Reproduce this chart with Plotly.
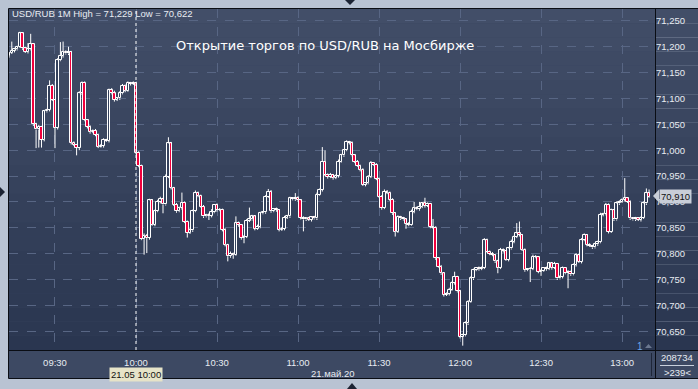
import plotly.graph_objects as go
import pandas as pd

# ---------------- data (prices in units of 0.001 RUB) ----------------
start_time = "2020-05-21 09:13"
first_open = 71182
closes = [
    71188, 71192, 71195, 71200, 71226, 71197, 71190, 71195, 71205, 71050,
    71040, 71045, 71020, 71075, 71078, 71125, 71097, 71043, 71174, 71182,
    71190, 71187, 71190, 71014, 71010, 71005, 71110, 71130, 71058, 71045,
    71035, 71038, 71030, 71007, 71008, 71020, 71018, 71116, 71110, 71097,
    71100, 71110, 71125, 71115, 71130, 71128, 71130, 70995, 70970, 70828,
    70835, 70830, 70903, 70856, 70882, 70900, 70905, 70895, 70949, 71013,
    70927, 70894, 70882, 70888, 70898, 70862, 70840, 70845, 70882, 70917,
    70912, 70891, 70872, 70875, 70873, 70880, 70894, 70884, 70885, 70846,
    70817, 70795, 70800, 70798, 70859, 70855, 70830, 70832, 70864, 70866,
    70872, 70848, 70852, 70878, 70880, 70910, 70920, 70882, 70886, 70884,
    70846, 70848, 70869, 70872, 70907, 70905, 70908, 70903, 70869, 70866,
    70868, 70865, 70870, 70868, 70914, 70923, 70978, 70952, 70948, 70952,
    70946, 70950, 70978, 70990, 71000, 71016, 71014, 70990, 70978, 70970,
    70962, 70933, 70936, 70949, 70975, 70972, 70945, 70910, 70888, 70920,
    70918, 70904, 70878, 70842, 70871, 70868, 70866, 70858, 70856, 70881,
    70888, 70886, 70890, 70897, 70892, 70896, 70852, 70850, 70791, 70775,
    70762, 70720, 70722, 70730, 70743, 70755, 70727, 70639, 70642, 70665,
    70707, 70752, 70768, 70772, 70770, 70773, 70826, 70804, 70800, 70797,
    70785, 70772, 70807, 70805, 70788, 70810, 70823, 70832, 70839, 70836,
    70807, 70768, 70770, 70771, 70794, 70793, 70765, 70767, 70772, 70770,
    70781, 70772, 70780, 70752, 70755, 70772, 70762, 70765, 70760, 70778,
    70797, 70784, 70826, 70836, 70817, 70815, 70812, 70818, 70822, 70875,
    70876, 70894, 70842, 70884, 70866, 70897, 70900, 70904, 70907, 70900,
    70868, 70866, 70868, 70865, 70869, 70897, 70917, 70910,
]
wick_up = [
    2, 18, 3, 2, 3, 2, 3, 12, 20, 2,
    3, 4, 2, 3, 2, 10, 3, 2, 4, 27,
    20, 3, 10, 2, 3, 2, 4, 3, 3, 2,
    3, 2, 3, 2, 4, 3, 2, 3, 4, 5,
    3, 4, 3, 2, 3, 2, 3, 2, 3, 2,
    4, 3, 3, 2, 3, 4, 5, 3, 4, 12,
    3, 2, 4, 3, 20, 3, 2, 4, 3, 5,
    3, 2, 3, 2, 3, 6, 2, 3, 3, 2,
    3, 2, 4, 2, 13, 3, 2, 4, 3, 23,
    3, 2, 4, 3, 2, 3, 5, 3, 2, 3,
    2, 3, 4, 3, 3, 2, 9, 3, 2, 3,
    2, 3, 2, 3, 4, 3, 28, 22, 3, 4,
    2, 3, 4, 3, 2, 3, 2, 3, 2, 3,
    2, 3, 2, 3, 4, 2, 3, 2, 3, 4,
    3, 2, 3, 2, 3, 2, 3, 2, 3, 4,
    12, 3, 10, 3, 11, 3, 2, 15, 3, 2,
    3, 2, 3, 4, 3, 10, 2, 3, 3, 4,
    3, 4, 3, 2, 3, 2, 4, 3, 2, 3,
    2, 3, 4, 3, 2, 3, 4, 3, 20, 23,
    2, 3, 2, 3, 4, 3, 2, 3, 2, 3,
    3, 2, 4, 2, 3, 3, 2, 3, 2, 3,
    4, 3, 4, 3, 2, 3, 2, 3, 3, 4,
    3, 4, 3, 3, 2, 4, 3, 3, 39, 2,
    3, 2, 3, 2, 3, 4, 9, 7,
]
wick_dn = [
    3, 2, 3, 2, 2, 3, 2, 3, 2, 3,
    36, 35, 15, 3, 2, 3, 2, 39, 3, 2,
    3, 2, 3, 3, 2, 15, 5, 3, 2, 3,
    3, 2, 3, 3, 2, 3, 2, 3, 2, 3,
    2, 3, 2, 3, 2, 3, 2, 3, 3, 2,
    30, 29, 3, 2, 3, 2, 3, 17, 2, 3,
    3, 2, 3, 2, 3, 3, 9, 2, 3, 2,
    3, 2, 3, 2, 8, 3, 2, 3, 2, 3,
    3, 10, 3, 8, 2, 3, 3, 10, 2, 3,
    2, 3, 2, 3, 2, 3, 2, 3, 2, 3,
    3, 2, 3, 2, 3, 2, 3, 2, 3, 23,
    3, 2, 3, 2, 3, 2, 3, 2, 3, 2,
    3, 2, 3, 2, 3, 2, 3, 2, 3, 2,
    3, 2, 3, 2, 3, 2, 3, 2, 3, 2,
    3, 2, 3, 9, 2, 3, 2, 10, 3, 2,
    3, 2, 3, 2, 3, 2, 3, 2, 3, 2,
    3, 3, 2, 3, 2, 3, 2, 3, 17, 2,
    3, 2, 3, 2, 3, 2, 3, 2, 3, 2,
    3, 10, 2, 3, 2, 3, 2, 3, 2, 3,
    2, 3, 2, 25, 3, 2, 3, 8, 2, 3,
    2, 3, 2, 3, 2, 3, 2, 29, 3, 2,
    3, 2, 3, 2, 3, 2, 3, 2, 3, 2,
    3, 2, 3, 2, 3, 2, 3, 2, 3, 2,
    3, 2, 3, 2, 3, 2, 3, 2,
]
header_text = "USD/RUB 1M High = 71,229 Low = 70,622"
title_text = "Открытие торгов по USD/RUB на Мосбирже"
cursor_time = "2020-05-21 10:00"
cursor_label = "21.05 10:00"
date_label = "21.май.20"
last_price_label = "70,910"
volume_text = "208734"
count_text = ">239<"

# ---------------- derived OHLC ----------------
times = pd.date_range(start_time, periods=len(closes), freq="min")
opens = [first_open] + closes[:-1]
highs = [max(o, c) + u for o, c, u in zip(opens, closes, wick_up)]
lows = [min(o, c) - d for o, c, d in zip(opens, closes, wick_dn)]
P = lambda v: v / 1000

# ---------------- geometry helpers (pixels -> paper) ----------------
W, H = 698, 389
ML, MR, MT, MB = 9, 43, 9, 39
PW, PH = W - ML - MR, H - MT - MB
px = lambda x: (x - ML) / PW
py = lambda y: (H - MB - y) / PH

fig = go.Figure()
# wicks: upper (high -> body top) and lower (body bottom -> low), not crossing the body
wx, wy = [], []
for t, o, c, lo, hi in zip(times, opens, closes, lows, highs):
    wx += [t, t, None, t, t, None]
    wy += [P(hi), P(max(o, c)), None, P(min(o, c)), P(lo), None]
fig.add_trace(go.Scatter(x=wx, y=wy, mode="lines", line=dict(color="#ffffff", width=1),
                         hoverinfo="skip", showlegend=False))
# bodies
body_base = [P(min(o, c)) for o, c in zip(opens, closes)]
body_h = [max(P(abs(c - o)), 0.0012) for o, c in zip(opens, closes)]
body_col = ["#f0003c" if c < o else "#34415c" for o, c in zip(opens, closes)]
fig.add_trace(go.Bar(x=times, y=body_h, base=body_base, width=56000,
                     marker=dict(color=body_col, line=dict(color="#ffffff", width=1)),
                     hoverinfo="skip", showlegend=False))

shapes = []
# background gradient for plot + right panel
top_c, bot_c = (66, 78, 104), (42, 54, 80)
nb = 24
for k in range(nb):
    t = (k + 0.5) / nb
    col = tuple(round(top_c[j] + (bot_c[j] - top_c[j]) * t) for j in range(3))
    shapes.append(dict(type="rect", xref="paper", yref="paper",
                       x0=0, x1=px(W + 2), y0=1 - k / nb, y1=1 - (k + 1) / nb,
                       fillcolor="rgb(%d,%d,%d)" % col, line=dict(width=0), layer="below"))
# bottom axis band
shapes.append(dict(type="rect", xref="paper", yref="paper", x0=0, x1=px(W + 2),
                   y0=py(378), y1=0, fillcolor="#3d4963", line=dict(width=0), layer="below"))
# borders
blk = dict(color="#0a0d14", width=1)
shapes += [
    dict(type="line", xref="paper", yref="paper", x0=px(8.5), x1=px(8.5), y0=py(378.5), y1=py(8.5), line=blk),
    dict(type="line", xref="paper", yref="paper", x0=px(8.5), x1=px(W), y0=py(8.5), y1=py(8.5), line=blk),
    dict(type="line", xref="paper", yref="paper", x0=px(655.5), x1=px(655.5), y0=py(378.5), y1=py(8.5), line=blk),
    dict(type="line", xref="paper", yref="paper", x0=px(8.5), x1=px(W), y0=py(350.5), y1=py(350.5), line=blk),
    dict(type="line", xref="paper", yref="paper", x0=px(8.5), x1=px(W), y0=py(378.5), y1=py(378.5), line=blk),
    dict(type="line", xref="paper", yref="paper", x0=px(651.5), x1=px(651.5), y0=py(353), y1=py(376),
         line=dict(color="#1e2638", width=1)),
    dict(type="line", xref="paper", yref="paper", x0=px(660), x1=px(694), y0=py(365.5), y1=py(365.5),
         line=dict(color="#c8d0dc", width=1)),
]
# cursor line
shapes.append(dict(type="line", xref="x", yref="paper", x0=cursor_time, x1=cursor_time, y0=0, y1=1,
                   line=dict(color="#ffffff", width=1, dash="dot"), layer="above"))
# frame triangles
tri = lambda pts, col: dict(type="path", xref="paper", yref="paper",
                            path="M " + " L ".join("%f,%f" % (px(a), py(b)) for a, b in pts) + " Z",
                            fillcolor=col, line=dict(width=0))
shapes += [
    tri([(345, 0), (355, 0), (350, 5)], "#1c2333"),
    tri([(347, 389), (357, 389), (352, 383)], "#1c2333"),
    tri([(0, 187), (0, 197), (5, 192)], "#1c2333"),
    tri([(645, 348), (652, 348), (648.5, 344)], "#6b7890"),
    tri([(653, 196), (659, 189.5), (659, 202.5)], "#c9ced8"),
]

fnt = "Liberation Sans"
annotations = [
    dict(text=header_text, xref="paper", yref="paper", x=px(10), y=py(14), xanchor="left", yanchor="middle",
         showarrow=False, font=dict(family=fnt, size=9.5, color="#e8ecf2")),
    dict(text=title_text, xref="paper", yref="paper", x=px(325), y=py(45), xanchor="center", yanchor="middle",
         showarrow=False, font=dict(family="DejaVu Sans", size=13, color="#ffffff")),
    dict(text=cursor_label, xref="x", yref="paper", x=cursor_time, y=py(374), xanchor="center", yanchor="middle",
         showarrow=False, bgcolor="#e6e3c8", borderpad=1,
         font=dict(family=fnt, size=9.5, color="#111111")),
    dict(text=date_label, xref="paper", yref="paper", x=px(333), y=py(373), xanchor="center", yanchor="middle",
         showarrow=False, font=dict(family=fnt, size=9.5, color="#e8ecf2")),
    dict(text="1", xref="paper", yref="paper", x=px(640), y=py(346), xanchor="center", yanchor="middle",
         showarrow=False, font=dict(family=fnt, size=10, color="#6ea8e8")),
    dict(text=volume_text, xref="paper", yref="paper", x=px(677), y=py(357.5), xanchor="center", yanchor="middle",
         showarrow=False, font=dict(family=fnt, size=9.5, color="#e8ecf2")),
    dict(text=count_text, xref="paper", yref="paper", x=px(677), y=py(372), xanchor="center", yanchor="middle",
         showarrow=False, font=dict(family=fnt, size=9.5, color="#e8ecf2")),
    dict(text=last_price_label, xref="paper", yref="y", x=px(659), y=closes[-1] / 1000, xanchor="left",
         yanchor="middle", showarrow=False, bgcolor="#c9ced8", borderpad=1,
         font=dict(family=fnt, size=9.5, color="#111111")),
]

grid = "#586684"
fig.update_layout(
    width=W, height=H, margin=dict(l=ML, r=MR, t=MT, b=MB, pad=0),
    paper_bgcolor="#b9c3d3", plot_bgcolor="#38455f",
    separators=", ", showlegend=False, bargap=0,
    shapes=shapes, annotations=annotations,
    xaxis=dict(type="date", range=["2020-05-21 09:12:58", "2020-05-21 13:12:12"],
               tickformat="%H:%M", dtick=1800000,
               tick0="2020-05-21 09:30", showgrid=True, gridcolor=grid, griddash="dash", gridwidth=1,
               zeroline=False, showline=False, ticks="outside", ticklen=4, tickcolor="rgba(0,0,0,0)",
               tickfont=dict(family=fnt, size=9.5, color="#e8ecf2")),
    yaxis=dict(side="right", range=[70.6136, 71.273], dtick=0.05, tick0=70.65, tickformat=".3f",
               showgrid=True, gridcolor=grid, griddash="dash", gridwidth=1,
               zeroline=False, showline=False, ticks="",
               tickfont=dict(family=fnt, size=9.5, color="#e8ecf2")),
)

fig.write_html("out.html")
